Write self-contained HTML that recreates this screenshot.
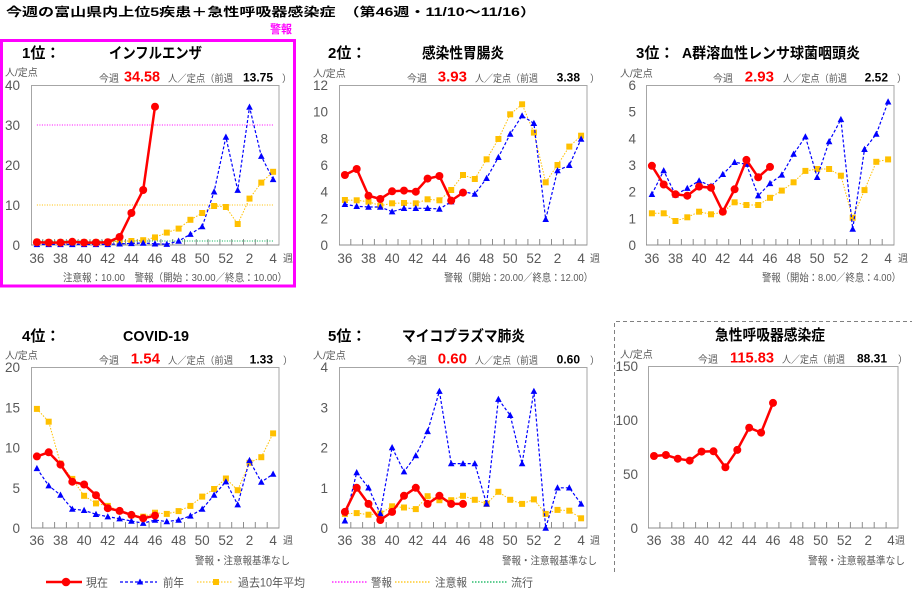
<!DOCTYPE html>
<html><head><meta charset="utf-8"><style>
html,body{margin:0;padding:0;background:#fff;}
svg{display:block;font-family:"Liberation Sans","Noto Sans CJK JP",sans-serif;}
.t{font-size:13.5px;fill:#595959;}
.s{font-size:10px;fill:#595959;}
.h{font-size:15px;font-weight:bold;fill:#000;}
.r{font-size:15px;font-weight:bold;fill:#ff0000;}
.b{font-size:12px;font-weight:bold;fill:#000;}
.f{font-size:10.5px;fill:#595959;}
.g{font-size:11.5px;fill:#595959;}
</style></head><body>
<svg width="912" height="592" viewBox="0 0 912 592" xmlns="http://www.w3.org/2000/svg">
<defs>
<marker id="mc" viewBox="0 0 10 10" refX="5" refY="5" markerWidth="10" markerHeight="10" markerUnits="userSpaceOnUse"><circle cx="5" cy="5" r="4" fill="#ff0000"/></marker>
<marker id="mt" viewBox="0 0 8 8" refX="4" refY="4.5" markerWidth="8" markerHeight="8" markerUnits="userSpaceOnUse"><path d="M4,1 L7.3,7.2 L0.7,7.2Z" fill="#0000ff"/></marker>
<marker id="ms" viewBox="0 0 8 8" refX="4" refY="4" markerWidth="8" markerHeight="8" markerUnits="userSpaceOnUse"><rect x="1" y="1" width="6" height="6" fill="#ffc000"/></marker>
<path id="tk" d="M11.8,0v-6M23.6,0v-6M35.4,0v-6M47.2,0v-6M59,0v-6M70.9,0v-6M82.7,0v-6M94.5,0v-6M106.3,0v-6M118.1,0v-6M129.9,0v-6M141.7,0v-6M153.5,0v-6M165.3,0v-6M177.1,0v-6M188.9,0v-6M200.7,0v-6M212.5,0v-6M224.3,0v-6M236.2,0v-6" stroke="#8c8c8c" stroke-width="1" fill="none"/>
<path id="tk6" d="M11.9,0v-6M23.8,0v-6M35.7,0v-6M47.6,0v-6M59.5,0v-6M71.4,0v-6M83.3,0v-6M95.2,0v-6M107.1,0v-6M119,0v-6M130.9,0v-6M142.9,0v-6M154.8,0v-6M166.7,0v-6M178.6,0v-6M190.5,0v-6M202.4,0v-6M214.3,0v-6M226.2,0v-6M238.1,0v-6" stroke="#8c8c8c" stroke-width="1" fill="none"/>
</defs>

<!-- Title -->
<text x="6" y="16" font-size="12" font-weight="bold" fill="#000" textLength="530" lengthAdjust="spacingAndGlyphs">今週の富山県内上位5疾患＋急性呼吸器感染症　（第46週・11/10〜11/16）</text>
<text x="270" y="33" font-size="11.5" font-weight="bold" fill="#ff00ff" textLength="22" lengthAdjust="spacingAndGlyphs">警報</text>
<rect x="1.5" y="40.5" width="293" height="245.5" fill="none" stroke="#ff00ff" stroke-width="3"/>

<!-- Panel 6 dashed border -->
<path d="M614.5,572V321.5H912" fill="none" stroke="#808080" stroke-width="1" stroke-dasharray="4 3"/>

<!-- ================= Panel 1 ================= -->
<text x="22" y="58" class="h">1位：</text>
<text x="109" y="58" class="h" font-size="14" textLength="93" lengthAdjust="spacingAndGlyphs">インフルエンザ</text>
<text x="5" y="76" class="s">人/定点</text>
<text x="99" y="82" class="s">今週</text>
<text x="160" y="81.5" class="r" text-anchor="end" textLength="36" lengthAdjust="spacingAndGlyphs">34.58</text>
<text x="168" y="82" class="s" textLength="65" lengthAdjust="spacingAndGlyphs">人／定点（前週</text>
<text x="273" y="81.5" class="b" text-anchor="end">13.75</text>
<text x="282" y="82" class="s">）</text>
<text x="63" y="281" class="f" textLength="224" lengthAdjust="spacingAndGlyphs">注意報：10.00　警報（開始：30.00／終息：10.00）</text>
<g transform="translate(31,85)">
<rect x="0.5" y="0.5" width="247.5" height="159.5" fill="none" stroke="#a6a6a6"/>
<line x1="0" y1="160" x2="248" y2="160" stroke="#8c8c8c"/>
<use href="#tk" y="160"/>
<g class="t" text-anchor="end"><text x="-11" y="165">0</text><text x="-11" y="125">10</text><text x="-11" y="85">20</text><text x="-11" y="45">30</text><text x="-11" y="5">40</text></g>
<g class="t" text-anchor="middle"><text x="5.9" y="178">36</text><text x="29.5" y="178">38</text><text x="53.1" y="178">40</text><text x="76.8" y="178">42</text><text x="100.4" y="178">44</text><text x="124" y="178">46</text><text x="147.6" y="178">48</text><text x="171.2" y="178">50</text><text x="194.9" y="178">52</text><text x="218.5" y="178">2</text><text x="242.1" y="178">4</text></g>
<text x="252" y="177" class="s">週</text>
<line x1="5.9" y1="40" x2="242.1" y2="40" stroke="#ff00ff" stroke-width="1" stroke-dasharray="1 1.5"/>
<line x1="5.9" y1="120" x2="242.1" y2="120" stroke="#ffc000" stroke-width="1" stroke-dasharray="1 1.5"/>
<line x1="5.9" y1="156" x2="242.1" y2="156" stroke="#00b050" stroke-width="1" stroke-dasharray="1 1.5"/>
<polyline points="5.9,156.8 17.7,157.2 29.5,157.2 41.3,156.8 53.1,157.2 65,157.2 76.8,156.8 88.6,156.4 100.4,156 112.2,155.2 124,152.4 135.8,147.6 147.6,143.6 159.4,134.8 171.2,128 183.1,121 194.9,122 206.7,139 218.5,113.6 230.3,97.6 242.1,86.8" fill="none" stroke="#ffc000" stroke-width="1" stroke-dasharray="1.5 1.5" marker-start="url(#ms)" marker-mid="url(#ms)" marker-end="url(#ms)"/>
<polyline points="5.9,159.4 17.7,159.4 29.5,159.4 41.3,159.4 53.1,159.4 65,159.4 76.8,159.4 88.6,158.8 100.4,158.4 112.2,158 124,158.8 135.8,159.2 147.6,156 159.4,149.2 171.2,141.6 183.1,106.8 194.9,52 206.7,105.2 218.5,22 230.3,71.2 242.1,94.4" fill="none" stroke="#0000ff" stroke-width="1.2" stroke-dasharray="3 2" marker-start="url(#mt)" marker-mid="url(#mt)" marker-end="url(#mt)"/>
<polyline points="5.9,157.2 17.7,157.6 29.5,157.6 41.3,156.8 53.1,157.6 65,157.6 76.8,157.2 88.6,152 100.4,128 112.2,105 124,21.7" fill="none" stroke="#ff0000" stroke-width="2.5" marker-start="url(#mc)" marker-mid="url(#mc)" marker-end="url(#mc)"/>
</g>

<!-- ================= Panel 2 ================= -->
<text x="328" y="58" class="h">2位：</text>
<text x="422" y="58" class="h" font-size="14" textLength="82" lengthAdjust="spacingAndGlyphs">感染性胃腸炎</text>
<text x="313" y="77" class="s">人/定点</text>
<text x="407" y="82" class="s">今週</text>
<text x="467" y="81.5" class="r" text-anchor="end">3.93</text>
<text x="475" y="82" class="s" textLength="63" lengthAdjust="spacingAndGlyphs">人／定点（前週</text>
<text x="580" y="81.5" class="b" text-anchor="end">3.38</text>
<text x="590" y="82" class="s">）</text>
<text x="444" y="281" class="f" textLength="149" lengthAdjust="spacingAndGlyphs">警報（開始：20.00／終息：12.00）</text>
<g transform="translate(339,85)">
<rect x="0.5" y="0.5" width="247.5" height="159.5" fill="none" stroke="#a6a6a6"/>
<line x1="0" y1="160" x2="248" y2="160" stroke="#8c8c8c"/>
<use href="#tk" y="160"/>
<g class="t" text-anchor="end"><text x="-11" y="165">0</text><text x="-11" y="138.3">2</text><text x="-11" y="111.7">4</text><text x="-11" y="85">6</text><text x="-11" y="58.3">8</text><text x="-11" y="31.7">10</text><text x="-11" y="5">12</text></g>
<g class="t" text-anchor="middle"><text x="5.9" y="178">36</text><text x="29.5" y="178">38</text><text x="53.1" y="178">40</text><text x="76.8" y="178">42</text><text x="100.4" y="178">44</text><text x="124" y="178">46</text><text x="147.6" y="178">48</text><text x="171.2" y="178">50</text><text x="194.9" y="178">52</text><text x="218.5" y="178">2</text><text x="242.1" y="178">4</text></g>
<text x="251" y="177" class="s">週</text>
<polyline points="5.9,115 17.7,115.3 29.5,116.7 41.3,120.7 53.1,118.3 65,118 76.8,118.3 88.6,114.3 100.4,115.3 112.2,105 124,90 135.8,94 147.6,74.3 159.4,54 171.2,29.3 183.1,19.3 194.9,47.6 206.7,97.3 218.5,80 230.3,61.6 242.1,50.7" fill="none" stroke="#ffc000" stroke-width="1" stroke-dasharray="1.5 1.5" marker-start="url(#ms)" marker-mid="url(#ms)" marker-end="url(#ms)"/>
<polyline points="5.9,119.3 17.7,121.3 29.5,122 41.3,122 53.1,126.7 65,123.3 76.8,123.3 88.6,123.3 100.4,124 112.2,116.7 124,106.7 135.8,109 147.6,93.3 159.4,72.3 171.2,49 183.1,30.7 194.9,38.3 206.7,134.3 218.5,85.6 230.3,80.3 242.1,54" fill="none" stroke="#0000ff" stroke-width="1.2" stroke-dasharray="3 2" marker-start="url(#mt)" marker-mid="url(#mt)" marker-end="url(#mt)"/>
<polyline points="5.9,90 17.7,84 29.5,110.7 41.3,114 53.1,106.3 65,105.6 76.8,106.7 88.6,93.6 100.4,91 112.2,115.6 124,107.6" fill="none" stroke="#ff0000" stroke-width="2.5" marker-start="url(#mc)" marker-mid="url(#mc)" marker-end="url(#mc)"/>
</g>

<!-- ================= Panel 3 ================= -->
<text x="636" y="58" class="h">3位：</text>
<text x="682" y="58" class="h" font-size="14" textLength="178" lengthAdjust="spacingAndGlyphs">A群溶血性レンサ球菌咽頭炎</text>
<text x="620" y="77" class="s">人/定点</text>
<text x="713" y="82" class="s">今週</text>
<text x="774" y="81.5" class="r" text-anchor="end">2.93</text>
<text x="783" y="82" class="s" textLength="64" lengthAdjust="spacingAndGlyphs">人／定点（前週</text>
<text x="888" y="81.5" class="b" text-anchor="end">2.52</text>
<text x="897" y="82" class="s">）</text>
<text x="762" y="281" class="f" textLength="139" lengthAdjust="spacingAndGlyphs">警報（開始：8.00／終息：4.00）</text>
<g transform="translate(646,85)">
<rect x="0.5" y="0.5" width="247.5" height="159.5" fill="none" stroke="#a6a6a6"/>
<line x1="0" y1="160" x2="248" y2="160" stroke="#8c8c8c"/>
<use href="#tk" y="160"/>
<g class="t" text-anchor="end"><text x="-10" y="165">0</text><text x="-10" y="138.3">1</text><text x="-10" y="111.7">2</text><text x="-10" y="85">3</text><text x="-10" y="58.3">4</text><text x="-10" y="31.7">5</text><text x="-10" y="5">6</text></g>
<g class="t" text-anchor="middle"><text x="5.9" y="178">36</text><text x="29.5" y="178">38</text><text x="53.1" y="178">40</text><text x="76.8" y="178">42</text><text x="100.4" y="178">44</text><text x="124" y="178">46</text><text x="147.6" y="178">48</text><text x="171.2" y="178">50</text><text x="194.9" y="178">52</text><text x="218.5" y="178">2</text><text x="242.1" y="178">4</text></g>
<text x="252" y="177" class="s">週</text>
<polyline points="5.9,128.3 17.7,128.3 29.5,136 41.3,132.3 53.1,126.7 65,129.3 76.8,127.2 88.6,117.3 100.4,120 112.2,120 124,112.8 135.8,105.6 147.6,97.3 159.4,85.9 171.2,84 183.1,84 194.9,90.7 206.7,132.8 218.5,105.1 230.3,76.8 242.1,74.4" fill="none" stroke="#ffc000" stroke-width="1" stroke-dasharray="1.5 1.5" marker-start="url(#ms)" marker-mid="url(#ms)" marker-end="url(#ms)"/>
<polyline points="5.9,109.3 17.7,85.6 29.5,109.9 41.3,103.2 53.1,95.7 65,101.1 76.8,89.3 88.6,77.3 100.4,79.2 112.2,110.7 124,98.4 135.8,89.9 147.6,69.1 159.4,51.7 171.2,92.3 183.1,56.5 194.9,34.4 206.7,144 218.5,64.3 230.3,49.1 242.1,16.8" fill="none" stroke="#0000ff" stroke-width="1.2" stroke-dasharray="3 2" marker-start="url(#mt)" marker-mid="url(#mt)" marker-end="url(#mt)"/>
<polyline points="5.9,80.8 17.7,99.5 29.5,109.3 41.3,110.7 53.1,101.6 65,102.7 76.8,126.7 88.6,104.3 100.4,74.9 112.2,92.3 124,81.9" fill="none" stroke="#ff0000" stroke-width="2.5" marker-start="url(#mc)" marker-mid="url(#mc)" marker-end="url(#mc)"/>
</g>

<!-- ================= Panel 4 ================= -->
<text x="22" y="341" class="h">4位：</text>
<text x="123" y="341" class="h" textLength="66" lengthAdjust="spacingAndGlyphs">COVID-19</text>
<text x="5" y="359" class="s">人/定点</text>
<text x="99" y="364" class="s">今週</text>
<text x="160" y="363.5" class="r" text-anchor="end">1.54</text>
<text x="168" y="364" class="s" textLength="65" lengthAdjust="spacingAndGlyphs">人／定点（前週</text>
<text x="273" y="363.5" class="b" text-anchor="end">1.33</text>
<text x="283" y="364" class="s">）</text>
<text x="195" y="564" class="f" textLength="95" lengthAdjust="spacingAndGlyphs">警報・注意報基準なし</text>
<g transform="translate(31,367)">
<rect x="0.5" y="0.5" width="247.5" height="160.5" fill="none" stroke="#a6a6a6"/>
<line x1="0" y1="161" x2="248" y2="161" stroke="#8c8c8c"/>
<use href="#tk" y="161"/>
<g class="t" text-anchor="end"><text x="-11" y="166">0</text><text x="-11" y="125.8">5</text><text x="-11" y="85.5">10</text><text x="-11" y="45.3">15</text><text x="-11" y="5">20</text></g>
<g class="t" text-anchor="middle"><text x="5.9" y="178">36</text><text x="29.5" y="178">38</text><text x="53.1" y="178">40</text><text x="76.8" y="178">42</text><text x="100.4" y="178">44</text><text x="124" y="178">46</text><text x="147.6" y="178">48</text><text x="171.2" y="178">50</text><text x="194.9" y="178">52</text><text x="218.5" y="178">2</text><text x="242.1" y="178">4</text></g>
<text x="252" y="177" class="s">週</text>
<polyline points="5.9,41.9 17.7,54.7 29.5,96.6 41.3,111.9 53.1,128.8 65,136.4 76.8,138.9 88.6,144.1 100.4,148.1 112.2,149.7 124,145.7 135.8,146.9 147.6,144.1 159.4,138.9 171.2,129.6 183.1,122 194.9,111.5 206.7,123.2 218.5,95.8 230.3,90.2 242.1,66.4" fill="none" stroke="#ffc000" stroke-width="1" stroke-dasharray="1.5 1.5" marker-start="url(#ms)" marker-mid="url(#ms)" marker-end="url(#ms)"/>
<polyline points="5.9,101.4 17.7,118.7 29.5,128 41.3,142.1 53.1,143.3 65,147.3 76.8,149.7 88.6,151.7 100.4,154 112.2,156.2 124,153 135.8,154.6 147.6,153 159.4,148.9 171.2,142.1 183.1,128 194.9,114.7 206.7,137.7 218.5,93.4 230.3,115.1 242.1,107" fill="none" stroke="#0000ff" stroke-width="1.2" stroke-dasharray="3 2" marker-start="url(#mt)" marker-mid="url(#mt)" marker-end="url(#mt)"/>
<polyline points="5.9,89.4 17.7,85.3 29.5,97.6 41.3,114.7 53.1,117.5 65,128.2 76.8,141.2 88.6,143.9 100.4,147.9 112.2,151.3 124,148.6" fill="none" stroke="#ff0000" stroke-width="2.5" marker-start="url(#mc)" marker-mid="url(#mc)" marker-end="url(#mc)"/>
</g>

<!-- ================= Panel 5 ================= -->
<text x="328" y="341" class="h">5位：</text>
<text x="402" y="341" class="h" font-size="14" textLength="123" lengthAdjust="spacingAndGlyphs">マイコプラズマ肺炎</text>
<text x="313" y="359" class="s">人/定点</text>
<text x="407" y="364" class="s">今週</text>
<text x="467" y="363.5" class="r" text-anchor="end">0.60</text>
<text x="475" y="364" class="s" textLength="63" lengthAdjust="spacingAndGlyphs">人／定点（前週</text>
<text x="580" y="363.5" class="b" text-anchor="end">0.60</text>
<text x="590" y="364" class="s">）</text>
<text x="502" y="564" class="f" textLength="95" lengthAdjust="spacingAndGlyphs">警報・注意報基準なし</text>
<g transform="translate(339,367)">
<rect x="0.5" y="0.5" width="247.5" height="160.5" fill="none" stroke="#a6a6a6"/>
<line x1="0" y1="161" x2="248" y2="161" stroke="#8c8c8c"/>
<use href="#tk" y="161"/>
<g class="t" text-anchor="end"><text x="-11" y="166">0</text><text x="-11" y="125.8">1</text><text x="-11" y="85.5">2</text><text x="-11" y="45.3">3</text><text x="-11" y="5">4</text></g>
<g class="t" text-anchor="middle"><text x="5.9" y="178">36</text><text x="29.5" y="178">38</text><text x="53.1" y="178">40</text><text x="76.8" y="178">42</text><text x="100.4" y="178">44</text><text x="124" y="178">46</text><text x="147.6" y="178">48</text><text x="171.2" y="178">50</text><text x="194.9" y="178">52</text><text x="218.5" y="178">2</text><text x="242.1" y="178">4</text></g>
<text x="251" y="177" class="s">週</text>
<polyline points="5.9,146.9 17.7,146.1 29.5,147.7 41.3,146.5 53.1,139.3 65,140.5 76.8,142.1 88.6,129.2 100.4,133.2 112.2,133.2 124,128.8 135.8,132.8 147.6,136.9 159.4,124.8 171.2,132.8 183.1,136.9 194.9,132.4 206.7,146.9 218.5,142.9 230.3,143.7 242.1,151.3" fill="none" stroke="#ffc000" stroke-width="1" stroke-dasharray="1.5 1.5" marker-start="url(#ms)" marker-mid="url(#ms)" marker-end="url(#ms)"/>
<polyline points="5.9,153.8 17.7,105.5 29.5,120.8 41.3,146.5 53.1,80.5 65,104.7 76.8,88.6 88.6,64.4 100.4,24.2 112.2,96.6 124,96.6 135.8,96.6 147.6,136.9 159.4,32.2 171.2,48.3 183.1,96.6 194.9,24.2 206.7,161 218.5,120.8 230.3,120.8 242.1,136.9" fill="none" stroke="#0000ff" stroke-width="1.2" stroke-dasharray="3 2" marker-start="url(#mt)" marker-mid="url(#mt)" marker-end="url(#mt)"/>
<polyline points="5.9,144.9 17.7,120.8 29.5,136.9 41.3,153 53.1,144.9 65,128.8 76.8,120.8 88.6,136.9 100.4,128.8 112.2,136.9 124,136.9" fill="none" stroke="#ff0000" stroke-width="2.5" marker-start="url(#mc)" marker-mid="url(#mc)" marker-end="url(#mc)"/>
</g>

<!-- ================= Panel 6 ================= -->
<text x="715" y="340" class="h" font-size="14" textLength="110" lengthAdjust="spacingAndGlyphs">急性呼吸器感染症</text>
<text x="620" y="358" class="s">人/定点</text>
<text x="698" y="363" class="s">今週</text>
<text x="774" y="362.5" class="r" text-anchor="end" textLength="44" lengthAdjust="spacingAndGlyphs">115.83</text>
<text x="782" y="363" class="s" textLength="63" lengthAdjust="spacingAndGlyphs">人／定点（前週</text>
<text x="887" y="362.5" class="b" text-anchor="end">88.31</text>
<text x="898" y="363" class="s">）</text>
<text x="808" y="564" class="f" textLength="97" lengthAdjust="spacingAndGlyphs">警報・注意報基準なし</text>
<g transform="translate(648,366)">
<rect x="0.5" y="0.5" width="249.5" height="161.5" fill="none" stroke="#a6a6a6"/>
<line x1="0" y1="162" x2="250" y2="162" stroke="#8c8c8c"/>
<use href="#tk6" y="162"/>
<g class="t" text-anchor="end"><text x="-10" y="167">0</text><text x="-10" y="113">50</text><text x="-10" y="59">100</text><text x="-10" y="5">150</text></g>
<g class="t" text-anchor="middle"><text x="6" y="179">36</text><text x="29.8" y="179">38</text><text x="53.6" y="179">40</text><text x="77.4" y="179">42</text><text x="101.2" y="179">44</text><text x="125" y="179">46</text><text x="148.8" y="179">48</text><text x="172.6" y="179">50</text><text x="196.4" y="179">52</text><text x="220.2" y="179">2</text><text x="243" y="179">4</text></g>
<text x="247" y="178" class="s">週</text>
<polyline points="6,90 17.9,89 29.8,92.7 41.7,94.6 53.6,85.6 65.5,85.3 77.4,101.3 89.3,83.9 101.2,61.7 113.1,66.6 125,36.9" fill="none" stroke="#ff0000" stroke-width="2.5" marker-start="url(#mc)" marker-mid="url(#mc)" marker-end="url(#mc)"/>
</g>

<!-- ================= Legend ================= -->
<line x1="46" y1="582" x2="82" y2="582" stroke="#ff0000" stroke-width="2.5"/>
<circle cx="66" cy="582" r="4.3" fill="#ff0000"/>
<text x="86" y="586.5" class="g" textLength="22" lengthAdjust="spacingAndGlyphs">現在</text>
<line x1="120" y1="582" x2="157" y2="582" stroke="#0000ff" stroke-width="1.2" stroke-dasharray="3 2"/>
<path d="M140,578.5 L143.3,584.5 L136.7,584.5Z" fill="#0000ff"/>
<text x="163" y="586.5" class="g" textLength="21" lengthAdjust="spacingAndGlyphs">前年</text>
<line x1="197" y1="582" x2="233" y2="582" stroke="#ffc000" stroke-width="1" stroke-dasharray="1.5 1.5"/>
<rect x="213" y="579" width="6" height="6" fill="#ffc000"/>
<text x="238" y="586.5" class="g" textLength="67" lengthAdjust="spacingAndGlyphs">過去10年平均</text>
<line x1="332" y1="582" x2="367" y2="582" stroke="#ff00ff" stroke-width="1.2" stroke-dasharray="1.5 1.5"/>
<text x="371" y="586.5" class="g" textLength="21" lengthAdjust="spacingAndGlyphs">警報</text>
<line x1="395" y1="582" x2="430" y2="582" stroke="#ffc000" stroke-width="1.2" stroke-dasharray="1.5 1.5"/>
<text x="435" y="586.5" class="g" textLength="32" lengthAdjust="spacingAndGlyphs">注意報</text>
<line x1="472" y1="582" x2="508" y2="582" stroke="#00b050" stroke-width="1.2" stroke-dasharray="1.5 1.5"/>
<text x="511" y="586.5" class="g" textLength="22" lengthAdjust="spacingAndGlyphs">流行</text>
</svg>
</body></html>
